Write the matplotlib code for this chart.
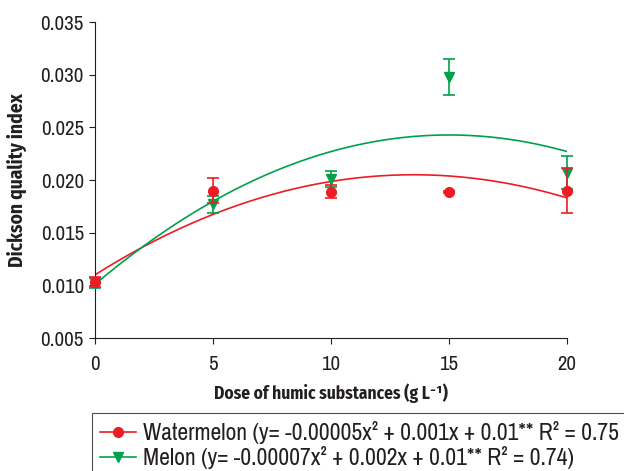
import numpy as np
import matplotlib
matplotlib.use("Agg")
import matplotlib.pyplot as plt
from matplotlib.lines import Line2D

doses = [0, 5, 10, 15, 20]
watermelon = [0.0103, 0.0190, 0.0189, 0.0189, 0.0190]
watermelon_err = [0.0005, 0.0012, 0.0006, 0.0001, 0.0021]
melon = [0.0102, 0.0177, 0.0201, 0.0298, 0.0207]
melon_err = [0.0005, 0.0008, 0.0008, 0.0017, 0.0016]
# quadratic trend coefficients (a, b, c) as drawn
watermelon_fit = [-5.21e-5, 0.001407, 0.0110]
melon_fit = [-6.3e-5, 0.00189, 0.0101]

label_w = "Watermelon (y= -0.00005x² + 0.001x + 0.01** R² = 0.75"
label_m = "Melon (y= -0.00007x² + 0.002x + 0.01** R² = 0.74)"

REG = ['Archivo Narrow', 'DejaVu Sans']
BOLD = ['Fira Sans Condensed', 'Encode Sans Condensed', 'DejaVu Sans']
plt.rcParams['font.family'] = REG

red = '#ed1c24'
green = '#00a14b'
txt = '#231f20'

fig = plt.figure(figsize=(6.24, 4.71), dpi=100)
ax = fig.add_axes([95/624, 1-338/471, (567-95)/624, (338-22)/471])

xs = np.linspace(0, 20, 200)
ax.plot(xs, np.polyval(watermelon_fit, xs), color=red, lw=1.2, zorder=2)
ax.plot(xs, np.polyval(melon_fit, xs), color=green, lw=1.2, zorder=2)

e1 = ax.errorbar(doses, melon, yerr=melon_err, fmt='v', color=green, ms=7,
                 capsize=4.5, elinewidth=1.2, capthick=1.2, zorder=3)
e2 = ax.errorbar(doses, watermelon, yerr=watermelon_err, fmt='o', color=red, ms=7,
                 capsize=4.5, elinewidth=1.2, capthick=1.2, zorder=4)
for e in (e1, e2):
    for art in e.get_children():
        art.set_clip_on(False)

ax.set_xlim(0, 20)
ax.set_ylim(0.005, 0.035)
ax.set_xticks(doses)
yt = np.arange(0.005, 0.0351, 0.005)
ax.set_yticks(yt)
ax.set_yticklabels([f"{v:.3f}" for v in yt])
for s in ['top', 'right']:
    ax.spines[s].set_visible(False)
for s in ['left', 'bottom']:
    ax.spines[s].set_color(txt)
ax.tick_params(labelsize=15, colors=txt, length=4)
ax.tick_params(axis='x', pad=8)
ax.tick_params(axis='y', pad=4)
ax.set_xlabel("Dose of humic substances (g L⁻¹)", fontsize=12.5,
              fontweight='bold', family=BOLD, color=txt, labelpad=7)
ax.set_ylabel("Dickson quality index", fontsize=14, fontweight='bold',
              family=BOLD, color=txt, labelpad=10)

h1 = Line2D([], [], color=red, marker='o', ms=7, lw=1.2)
h2 = Line2D([], [], color=green, marker='v', ms=7, lw=1.2)
leg = fig.legend([h1, h2], [label_w, label_m], loc='upper left',
                 bbox_to_anchor=(92/624, 1-413/471), fontsize=17,
                 frameon=True, fancybox=False, edgecolor=txt,
                 handlelength=1.55, borderpad=0.33, labelspacing=0.1,
                 handletextpad=0.3, borderaxespad=0)
leg.get_frame().set_linewidth(0.8)
for t in leg.get_texts():
    t.set_color(txt)

fig.savefig("out.png", dpi=100)
